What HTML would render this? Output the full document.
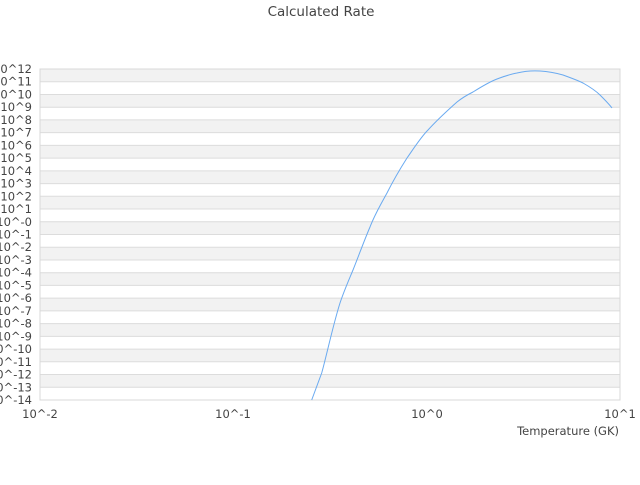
<!DOCTYPE html>
<html><head><meta charset="utf-8"><style>
html,body{margin:0;padding:0;background:#fff;}
body{width:640px;height:480px;overflow:hidden;}
text{font-family:"DejaVu Sans","Liberation Sans",sans-serif;fill:#444;font-size:11.5px;}
</style></head><body>
<svg width="640" height="480" xmlns="http://www.w3.org/2000/svg">
<text x="321" y="16" text-anchor="middle" style="font-size:13.5px">Calculated Rate</text>
<g id="bands"></g>
<g id="ylab"></g>
<rect x="40" y="69" width="580" height="331" fill="none" stroke="#d8d8d8"/>
<text x="40" y="418" text-anchor="middle">10^-2</text>
<text x="233" y="418" text-anchor="middle">10^-1</text>
<text x="427" y="418" text-anchor="middle">10^0</text>
<text x="620" y="418" text-anchor="middle">10^1</text>
<text x="619" y="435" text-anchor="end">Temperature (GK)</text>
<path fill="none" stroke="#6aaaf0" stroke-width="1" d="M311.7,400 L321.7,373 C326,358 333,325 340,303 C344,291 348,282 353,270 C359,255 364,241 370,227 C375,214 381,204 387,193 C393,181 400,169 407,158 C414,148 421,137 428,130 C438,119 448,110 457,102 C462,98 467,95 473,92 C481,87 489,82 497,79 C505,76 511,74 517,73 C525,71 532,70.5 540,71 C548,71.5 556,73 563,75 C571,78 577,80 583,83 C590,87 595,90 600,95 C605,100 609,104 612,108"/>
</svg>
<script>
var ns="http://www.w3.org/2000/svg",b=document.getElementById("bands"),l=document.getElementById("ylab");
var h=331/26;
for(var i=0;i<26;i++){var y=69+i*h;
 var r=document.createElementNS(ns,"rect");r.setAttribute("x",40);r.setAttribute("y",y);r.setAttribute("width",580);r.setAttribute("height",h);
 r.setAttribute("fill",i%2==0?"#f2f2f2":"#fff");b.appendChild(r);
 var ln=document.createElementNS(ns,"line");ln.setAttribute("x1",40);ln.setAttribute("x2",620);ln.setAttribute("y1",y);ln.setAttribute("y2",y);ln.setAttribute("stroke","#dcdcdc");b.appendChild(ln);}
for(var i=0;i<=26;i++){var v=12-i;var t=document.createElementNS(ns,"text");
 t.setAttribute("x",32);t.setAttribute("y",69+i*h+4);t.setAttribute("text-anchor","end");
 t.textContent="10^"+(v==0?"-0":v);l.appendChild(t);}
</script>
</body></html>
